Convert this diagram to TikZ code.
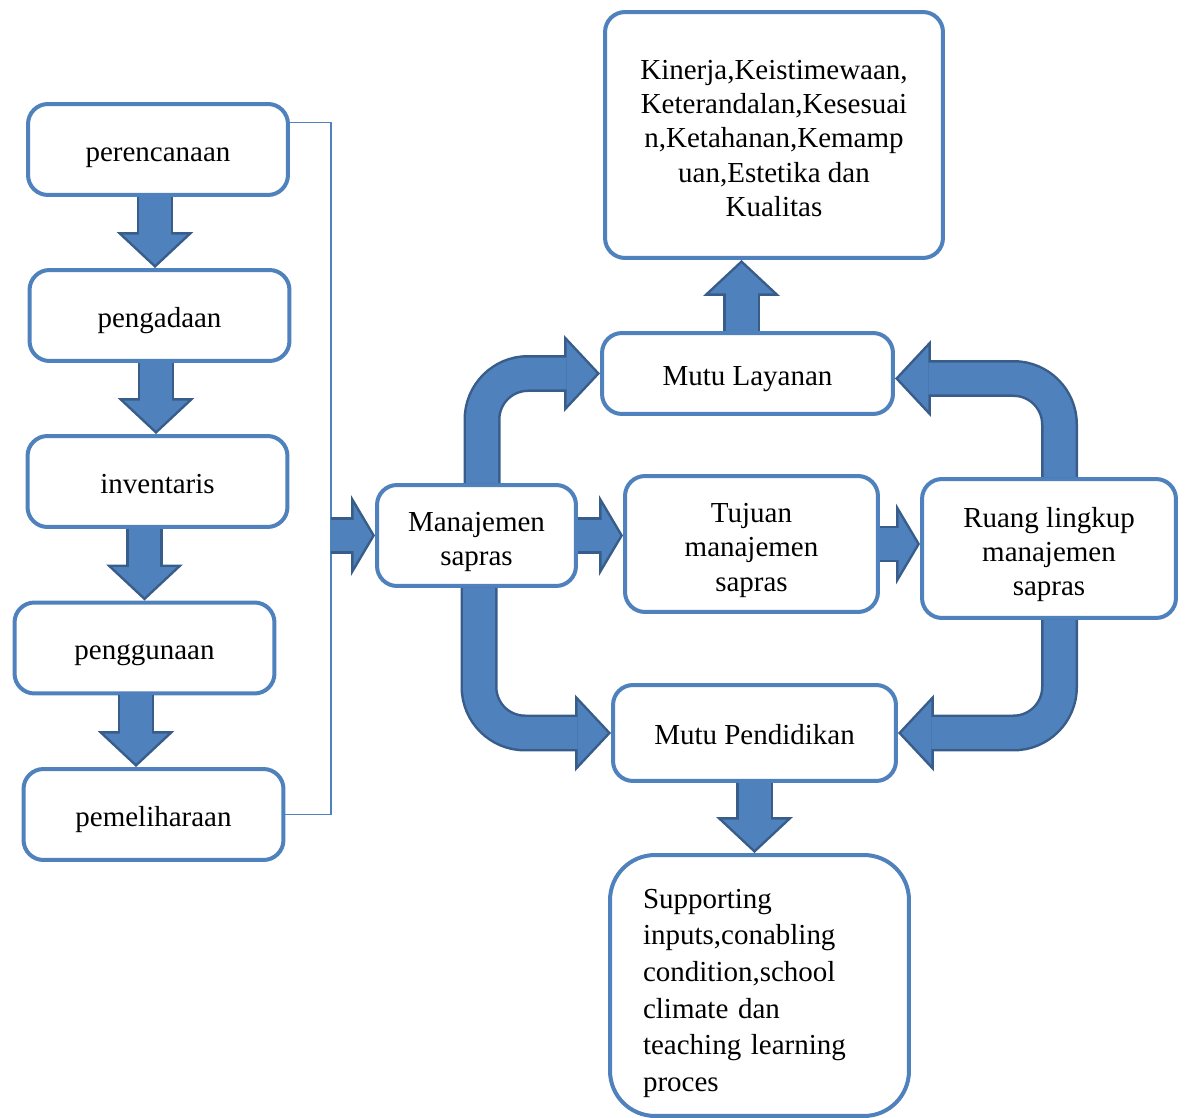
\documentclass[tikz,border=0pt]{standalone}
\usepackage{fontspec}
\setmainfont{Liberation Serif}
\usetikzlibrary{arrows.meta}
\definecolor{boxblue}{RGB}{79,129,189}
\definecolor{arrowdark}{RGB}{56,93,138}
% block arrow: dark outline first, blue body on top
\newcommand{\blockarrow}[2]{%
  \draw[#1 outer] #2;
  \draw[#1 inner] #2;}

\begin{document}
\begin{tikzpicture}[
        x=0.02cm, y=-0.02cm,
        % kotak tahapan
        box/.style={rectangle, draw=boxblue, line width=0.08cm, rounded corners=0.4cm, fill=white, align=center, font=\fontsize{16.5}{19.5}\selectfont, text depth=0pt},
        oneline/.style={box, text height=13.5pt},
        multiline/.style={box, text height=#1},
        stepbox/.style={oneline, minimum width=5.2cm, minimum height=1.82cm},
        bigbox/.style={box, rounded corners=0.9cm},
        % panah blok (tegak dan belok)
        vert outer/.style={color=arrowdark, line width=0.74cm, rounded corners=0.92cm, -{Triangle[length=0.72cm, width=1.54cm, line width=0pt]}},
        vert inner/.style={color=boxblue, line width=0.64cm, rounded corners=0.92cm, shorten >=0.0685cm, -{Triangle[length=0.6015cm, width=1.2865cm, line width=0pt]}},
        % panah blok pendek (mendatar)
        horz outer/.style={color=arrowdark, line width=0.74cm, -{Triangle[length=0.48cm, width=1.62cm, line width=0pt]}},
        horz inner/.style={color=boxblue, line width=0.64cm, shorten >=0.0581cm, -{Triangle[length=0.3719cm, width=1.2552cm, line width=0pt]}},
        bracket/.style={draw=boxblue, line width=0.03cm}
    ]
    \useasboundingbox (0,0) rectangle (1187,1118);

    % tahapan di kiri
    \node[stepbox] (plan) at (158,149.5) {perencanaan};
    \node[stepbox] (proc) at (159.5,315.5) {pengadaan};
    \node[stepbox] (inv) at (157.5,481.5) {inventaris};
    \node[stepbox] (use) at (144.5,648) {penggunaan};
    \node[stepbox] (care) at (153.5,814.5) {pemeliharaan};

    % kotak tengah dan kanan
    \node[multiline=34.2pt, minimum width=3.98cm, minimum height=2.02cm] (man) at (476.5,535.5) {Manajemen\\sapras};
    \node[multiline=53.7pt, minimum width=5.06cm, minimum height=2.72cm] (goal) at (751.5,544) {Tujuan\\manajemen\\sapras};
    \node[multiline=53.7pt, minimum width=5.08cm, minimum height=2.78cm] (scope) at (1049,548.5) {Ruang lingkup\\manajemen\\sapras};
    \node[oneline, minimum width=5.82cm, minimum height=1.62cm] (serv) at (747.5,373.5) {Mutu Layanan};
    \node[oneline, minimum width=5.66cm, minimum height=1.92cm] (edu) at (754.5,733) {Mutu Pendidikan};
    \node[bigbox, multiline=92.7pt, minimum width=6.76cm, minimum height=4.92cm] (aspect) at (774,135) {Kinerja,Keistimewaan,\\Keterandalan,Kesesuai\\n,Ketahanan,Kemamp\\uan,Estetika dan\\Kualitas};
    \node[bigbox, minimum width=5.98cm, minimum height=5.22cm, text width=4.66cm, align=left, text height=19.8pt, text depth={}, font=\fontsize{16.5}{20.8}\selectfont] (support) at (759.5,985.5) {Supporting\\inputs,conabling\\condition,school\\climate dan\\teaching learning\\proces};

    % garis kurung kiri
    \path (man.west) ++(-44,0) coordinate (bus);
    \draw[bracket] ([yshift=0.54cm]plan.east) -| (bus) |- (care.east);

    % titik awal panah
    \coordinate (a1) at ([xshift=-0.06cm]plan.south);
    \coordinate (a2) at ([xshift=-0.07cm]proc.south);
    \coordinate (a3) at (inv.south -| use.north);
    \coordinate (a4) at ([xshift=-0.17cm]use.south);
    \coordinate (b1) at ([xshift=-0.12cm]serv.north);
    \coordinate (c1) at ([xshift=0.11cm]man.north);
    \coordinate (c2) at ([xshift=0.05cm]man.south);
    \coordinate (c3) at ([xshift=0.21cm]scope.north);
    \coordinate (c4) at ([xshift=0.21cm]scope.south);

    % panah lurus
    \blockarrow{vert}{(a1) -- (a1 |- proc.north)}
    \blockarrow{vert}{(a2) -- (a2 |- inv.north)}
    \blockarrow{vert}{(a3) -- (use.north)}
    \blockarrow{vert}{(a4) -- (a4 |- care.north)}
    \blockarrow{horz}{(bus) -- (man.west)}
    \blockarrow{horz}{(man.east) -- (man.east -| goal.west)}
    \blockarrow{horz}{(goal.east) -- (goal.east -| scope.west)}
    \blockarrow{vert}{(b1) -- (b1 |- aspect.south)}
    \blockarrow{vert}{(edu.south) -- (edu.south |- support.north)}

    % panah belok
    \blockarrow{vert}{(c1) |- (serv.west)}
    \blockarrow{vert}{(c2) |- (edu.west)}
    \blockarrow{vert}{(c3) |- ([yshift=-0.1cm]serv.east)}
    \blockarrow{vert}{(c4) |- (edu.east)}

\end{tikzpicture}
\end{document}
